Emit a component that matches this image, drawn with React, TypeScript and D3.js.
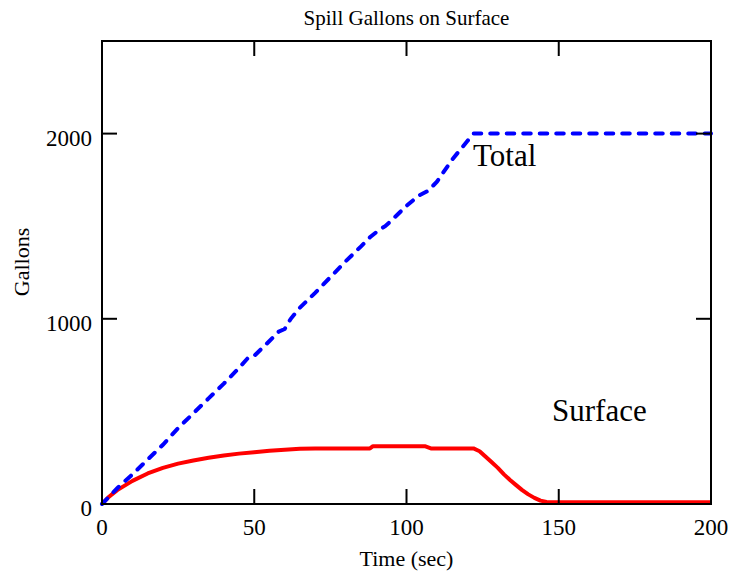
import React from "react";
import * as d3 from "d3";

const totalTime = [0, 5, 10, 15, 20, 25, 30, 35, 40, 45, 48, 50, 55, 58, 60, 62, 65, 70, 75, 80, 85, 88, 91, 93, 95, 100, 104, 107, 110, 115, 120, 122, 200];
const totalGallons = [0, 85, 160, 240, 320, 410, 490, 570, 650, 735, 790, 800, 880, 930, 945, 1000, 1060, 1140, 1225, 1310, 1390, 1440, 1480, 1500, 1530, 1610, 1665, 1690, 1740, 1860, 1960, 2000, 2000];

const surfaceTime = [0, 2, 5, 10, 15, 20, 25, 30, 35, 40, 45, 50, 55, 60, 65, 70, 88, 89, 106, 108, 122, 124, 126, 128, 130, 132, 134, 136, 138, 140, 142, 144, 146, 200];
const surfaceGallons = [0, 35, 75, 125, 165, 195, 218, 235, 250, 262, 272, 280, 287, 293, 298, 300, 300, 312, 312, 300, 300, 285, 255, 225, 195, 160, 130, 102, 75, 52, 33, 18, 11, 10];

const xTicks = [0, 50, 100, 150, 200];
const yTicks = [0, 1000, 2000];

const title = "Spill Gallons on Surface";
const xLabel = "Time (sec)";
const yLabel = "Gallons";

export default function App() {
  const W = 732, H = 573;
  const left = 102, right = 711, top = 41, bottom = 504;
  const x = d3.scaleLinear().domain([0, 200]).range([left, right]);
  const y = d3.scaleLinear().domain([0, 2500]).range([bottom, top]);
  const line = d3.line<[number, number]>().x(d => x(d[0])).y(d => y(d[1]));
  const totalPts = totalTime.map((t, i) => [t, totalGallons[i]] as [number, number]);
  const surfPts = surfaceTime.map((t, i) => [t, surfaceGallons[i]] as [number, number]);
  const tl = 15;
  const font = "'Liberation Serif', 'Times New Roman', serif";
  return (
    <svg width={W} height={H} style={{ position: "absolute", left: 0, top: 0 }} fontFamily={font}>
      <rect x={0} y={0} width={W} height={H} fill="#fff" />
      <text x={(left + right) / 2} y={25} textAnchor="middle" fontSize={21}>{title}</text>
      <path d={line(surfPts) || ""} fill="none" stroke="#ff0000" strokeWidth={4} strokeLinejoin="round" />
      <path d={line(totalPts) || ""} fill="none" stroke="#0000ff" strokeWidth={4} strokeDasharray="7.5 9" strokeLinecap="round" />
      <rect x={left} y={top} width={right - left} height={bottom - top} fill="none" stroke="#000" strokeWidth={2} />
      {xTicks.map(t => (
        <g key={"x" + t}>
          <line x1={x(t)} x2={x(t)} y1={bottom} y2={bottom - tl} stroke="#000" strokeWidth={2} />
          <line x1={x(t)} x2={x(t)} y1={top} y2={top + tl} stroke="#000" strokeWidth={2} />
          <text x={x(t)} y={bottom + 31} textAnchor="middle" fontSize={23}>{t}</text>
        </g>
      ))}
      {yTicks.map(v => (
        <g key={"y" + v}>
          <line x1={left} x2={left + tl} y1={y(v)} y2={y(v)} stroke="#000" strokeWidth={2} />
          <line x1={right} x2={right - tl} y1={y(v)} y2={y(v)} stroke="#000" strokeWidth={2} />
          <text x={92} y={y(v) + 12} textAnchor="end" fontSize={23}>{v}</text>
        </g>
      ))}
      <text x={(left + right) / 2} y={566} textAnchor="middle" fontSize={22}>{xLabel}</text>
      <text transform={`translate(29,262) rotate(-90)`} textAnchor="middle" fontSize={22}>{yLabel}</text>
      <text x={473} y={166} fontSize={31}>Total</text>
      <text x={552} y={421} fontSize={31}>Surface</text>
    </svg>
  );
}
